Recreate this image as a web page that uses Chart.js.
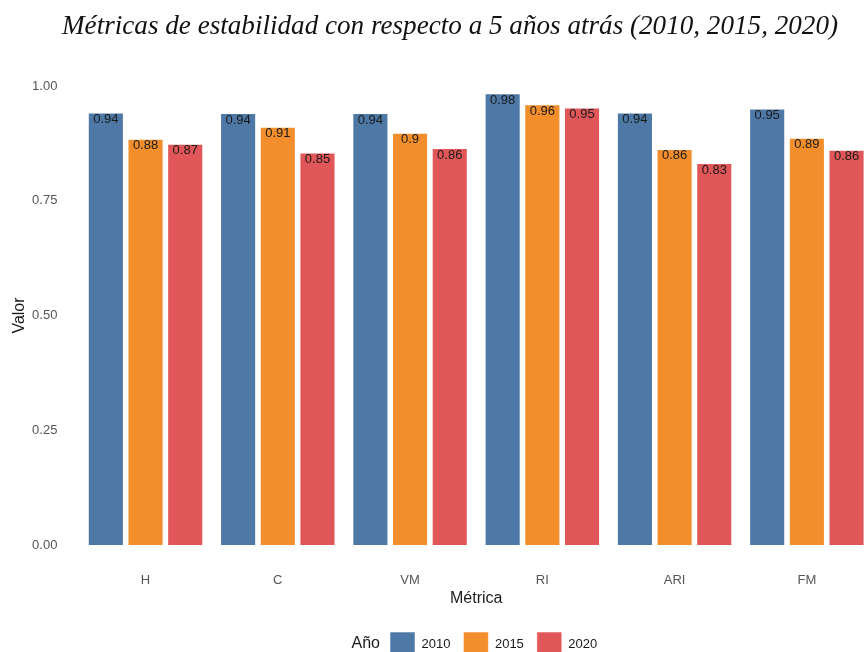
<!DOCTYPE html>
<html>
<head>
<meta charset="utf-8">
<script src="https://cdn.jsdelivr.net/npm/chart.js@4/dist/chart.umd.min.js"></script>
<style>
  html, body { margin: 0; padding: 0; background: #fff; overflow: hidden; }
  #wrap { width: 880px; height: 680px; }
</style>
</head>
<body>
<div id="wrap"><canvas id="chart" width="880" height="680"></canvas></div>
<script>
// metrics and values
const metricas = ['H', 'C', 'VM', 'RI', 'ARI', 'FM'];
const valores2010 = [0.942, 0.941, 0.941, 0.984, 0.942, 0.951];
const valores2015 = [0.885, 0.911, 0.898, 0.960, 0.863, 0.887];
const valores2020 = [0.874, 0.855, 0.865, 0.953, 0.832, 0.861];
// labels as printed on the bars
const etiquetas2010 = ['0.94', '0.94', '0.94', '0.98', '0.94', '0.95'];
const etiquetas2015 = ['0.88', '0.91', '0.9', '0.96', '0.86', '0.89'];
const etiquetas2020 = ['0.87', '0.85', '0.86', '0.95', '0.83', '0.86'];
const yTicks = [0, 0.25, 0.5, 0.75, 1.0];

const titulo = 'Métricas de estabilidad con respecto a 5 años atrás (2010, 2015, 2020)';

const titlePlugin = {
    id: 'titulo',
    afterDraw(chart) {
        const ctx = chart.ctx;
        ctx.save();
        ctx.font = 'italic 28px "Liberation Serif"';
        ctx.fillStyle = '#111';
        ctx.textAlign = 'center';
        ctx.textBaseline = 'middle';
        const w = ctx.measureText(titulo).width;
        const sx = 776 / w; // condensed like the original face
        ctx.translate(450, 27);
        ctx.scale(sx, 1);
        ctx.fillText(titulo, 0, 0);
        ctx.restore();
    }
};

const barLabels = {
    id: 'barLabels',
    afterDatasetsDraw(chart) {
        const ctx = chart.ctx;
        ctx.save();
        ctx.font = '13px "Liberation Sans", Arial, sans-serif';
        ctx.fillStyle = '#1a1a1a';
        ctx.textAlign = 'center';
        ctx.textBaseline = 'middle';
        chart.data.datasets.forEach((ds, i) => {
            chart.getDatasetMeta(i).data.forEach((bar, j) => {
                ctx.fillText(ds.etiquetas[j], bar.x, bar.y + 7);
            });
        });
        ctx.restore();
    }
};

const legendShift = {
    id: 'legendShift',
    afterLayout(chart) {
        const lg = chart.legend;
        const pad = lg.options.labels.padding;
        const dx = 390 - pad - lg.left;
        lg.left += dx;
        lg.right += dx;
    },
    afterDraw(chart) {
        const lg = chart.legend;
        const ctx = chart.ctx;
        const box = lg.legendHitBoxes[0];
        ctx.save();
        ctx.font = '16px "Liberation Sans", Arial, sans-serif';
        ctx.fillStyle = '#1a1a1a';
        ctx.textAlign = 'right';
        ctx.textBaseline = 'middle';
        ctx.fillText('Año', 380, box.top + box.height / 2);
        ctx.restore();
    }
};

const ctx = document.getElementById('chart').getContext('2d');
new Chart(ctx, {
    type: 'bar',
    data: {
        labels: metricas,
        datasets: [
            { label: '2010', data: valores2010, etiquetas: etiquetas2010, backgroundColor: '#4E79A7' },
            { label: '2015', data: valores2015, etiquetas: etiquetas2015, backgroundColor: '#F28E2B' },
            { label: '2020', data: valores2020, etiquetas: etiquetas2020, backgroundColor: '#E15759' }
        ]
    },
    options: {
        responsive: false,
        animation: false,
        devicePixelRatio: 1,
        layout: { padding: { top: 86, right: 7, left: 0, bottom: 14 } },
        datasets: {
            bar: {
                categoryPercentage: 0.9,
                barPercentage: 0.91,
                borderWidth: 1,
                borderColor: 'rgba(255,255,255,0.55)'
            }
        },
        scales: {
            x: {
                afterFit(scale) { scale.height = 74; },
                grid: { display: false, drawTicks: false },
                border: { display: false },
                ticks: {
                    padding: 28,
                    color: '#555',
                    font: { family: '"Liberation Sans", Arial, sans-serif', size: 13 }
                },
                title: {
                    display: true,
                    text: 'Métrica',
                    color: '#1a1a1a',
                    font: { family: '"Liberation Sans", Arial, sans-serif', size: 16 },
                    padding: { top: 0, bottom: 11 }
                }
            },
            y: {
                min: 0,
                max: 1,
                afterBuildTicks(scale) {
                    scale.ticks = yTicks.map(v => ({ value: v }));
                },
                afterFit(scale) { scale.width = 79.4; },
                grid: { display: false, drawTicks: false },
                border: { display: false },
                ticks: {
                    padding: 22,
                    color: '#555',
                    font: { family: '"Liberation Sans", Arial, sans-serif', size: 13 },
                    callback: v => v.toFixed(2)
                },
                title: {
                    display: true,
                    text: 'Valor',
                    color: '#1a1a1a',
                    font: { family: '"Liberation Sans", Arial, sans-serif', size: 16 },
                    padding: { top: 10, bottom: 0 }
                }
            }
        },
        plugins: {
            title: { display: false },
            tooltip: { enabled: false },
            legend: {
                position: 'bottom',
                align: 'start',
                labels: {
                    boxWidth: 25,
                    boxHeight: 24,
                    padding: 13,
                    color: '#1a1a1a',
                    font: { family: '"Liberation Sans", Arial, sans-serif', size: 13 }
                }
            }
        }
    },
    plugins: [titlePlugin, barLabels, legendShift]
});
</script>
</body>
</html>
